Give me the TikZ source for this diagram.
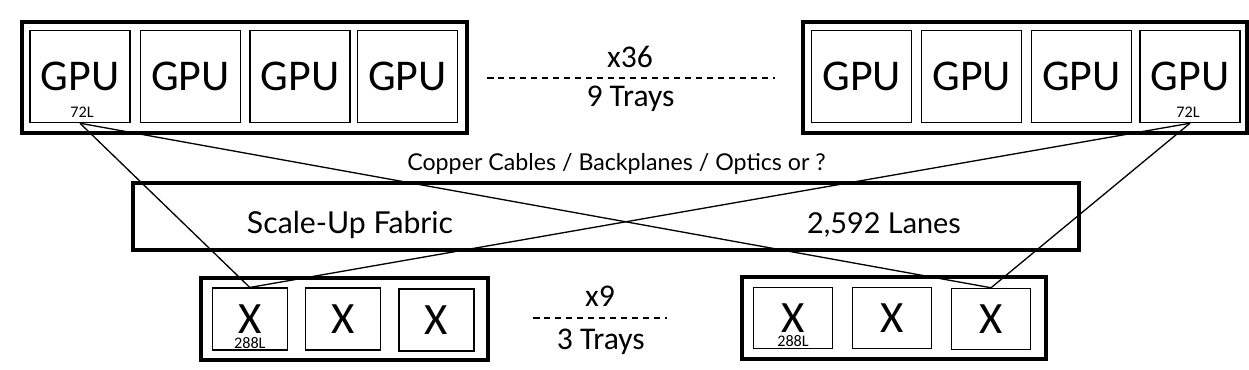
\documentclass[tikz,border=0pt]{standalone}
\usepackage{fontspec}
\setmainfont{Carlito}
\newfontfamily\fabricfont{Lato}
\tikzset{
  chipbox/.style={draw, line width=0.85pt, inner sep=0pt, font=\fontsize{25}{27}\selectfont},
  gpubox/.style={chipbox, minimum width=2cm, minimum height=1.84cm},
  xbox/.style={chipbox, font=\fontsize{25.5}{27}\selectfont},
  trayframe/.style={draw, line width=2.3pt, inner sep=0pt},
  lanetag/.style={anchor=base, inner sep=0pt, font=\fontsize{9.2}{11}\selectfont},
  trayinfo/.style={anchor=base, inner sep=0pt, font=\fontsize{18}{20}\selectfont},
  fabrictext/.style={anchor=base, inner sep=0pt, font=\fabricfont\fontsize{17.2}{19}\selectfont}
}
\begin{document}
\begin{tikzpicture}[x=0.02cm, y=-0.02cm, line width=0.75pt]
  \useasboundingbox[fill=white] (0,0) rectangle (1249,369);
  % GPU trays
  \node (trayGL) [trayframe, minimum width=8.9cm, minimum height=2.22cm] at (244.2,77.2) {};
  \node (trayGR) [trayframe, minimum width=8.88cm, minimum height=2.22cm] at (1024.7,77.2) {};
  \node (gl1) [gpubox] at (80,76.5) {GPU};   \node (gl2) [gpubox] at (190.4,76.5) {GPU};
  \node (gl3) [gpubox] at (300,76.5) {GPU};  \node (gl4) [gpubox] at (407.5,76.5) {GPU};
  \node (gr1) [gpubox] at (861.7,76.5) {GPU}; \node (gr2) [gpubox] at (971.7,76.5) {GPU};
  \node (gr3) [gpubox] at (1081.3,76.5) {GPU}; \node (gr4) [gpubox] at (1190,76.5) {GPU};
  \node (gl1lanes) [lanetag] at ([xshift=0.04cm, yshift=0.11cm]gl1.south) {72L};
  \node (gr4lanes) [lanetag] at ([xshift=-0.04cm, yshift=0.11cm]gr4.south) {72L};
  % tray counts
  \coordinate (dashGa) at (487,78); \coordinate (dashGb) at (775,78);
  \draw[line width=0.6pt, dash pattern=on 0.13cm off 0.09cm] (dashGa) -- (dashGb);
  \node (countG) [trayinfo] at (630,67.3) {x36};  \node (traysG) [trayinfo] at (630.5,106) {9 Trays};
  % fabric
  \node (fabric) [trayframe, minimum width=18.92cm, minimum height=1.346cm] at (606.3,216.3) {};
  \node (fabricname) [fabrictext] at (350,233) {Scale-Up Fabric};
  \node (fabriclanes) [fabrictext, font=\fabricfont\fontsize{16.4}{19}\selectfont] at (884,233) {2,592 Lanes};
  \node (media) [fabrictext, font=\fabricfont\fontsize{13.2}{15}\selectfont] at (616.5,170.7) {Copper Cables / Backplanes / Optics or ?};
  % switch trays
  \node (trayXL) [trayframe, minimum width=5.75cm, minimum height=1.634cm] at (344.5,319.2) {};
  \node (trayXR) [trayframe, minimum width=6.09cm, minimum height=1.646cm] at (893.9,317.9) {};
  \node (xl1) [xbox, minimum width=1.5cm, minimum height=1.24cm] at (249.8,319.2) {X};
  \node (xl2) [xbox, minimum width=1.5cm, minimum height=1.24cm] at (343.2,319.2) {X};
  \node (xl3) [xbox, minimum width=1.5cm, minimum height=1.24cm] at (436.5,320) {X};
  \node (xr1) [xbox, minimum width=1.58cm, minimum height=1.22cm] at (793,318.2) {X};
  \node (xr2) [xbox, minimum width=1.58cm, minimum height=1.22cm] at (891.8,318.2) {X};
  \node (xr3) [xbox, minimum width=1.58cm, minimum height=1.22cm] at (991,319) {X};
  \node (xl1lanes) [lanetag] at ([yshift=0.05cm]xl1.south) {288L};
  \node (xr1lanes) [lanetag] at ([yshift=0.05cm]xr1.south) {288L};
  \coordinate (dashXa) at (533,318); \coordinate (dashXb) at (667,318);
  \draw[line width=0.6pt, dash pattern=on 0.13cm off 0.09cm] (dashXa) -- (dashXb);
  \node (countX) [trayinfo] at (600,306.7) {x9};  \node (traysX) [trayinfo] at (600.8,349.3) {3 Trays};
  % links
  \draw (gl1.south) -- (xl1.north);  \draw (gl1.south) -- (xr3.north);
  \draw (gr4.south) -- (xr3.north);  \draw (gr4.south) -- (xl1.north);
\end{tikzpicture}
\end{document}
